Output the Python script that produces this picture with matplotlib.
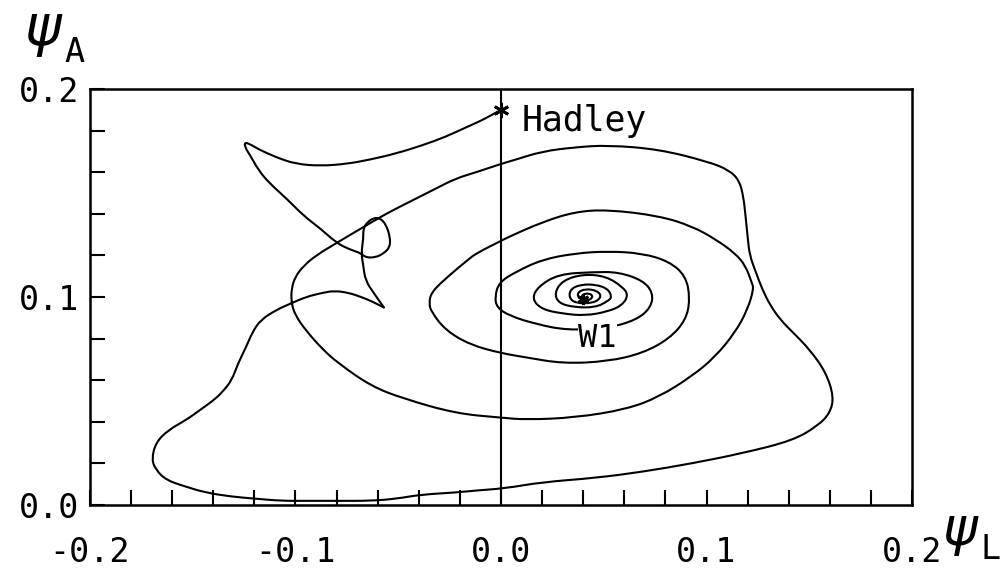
import numpy as np
import matplotlib.pyplot as plt
from matplotlib.path import Path
from matplotlib.patches import PathPatch
from matplotlib.ticker import MultipleLocator, FormatStrFormatter

plt.rcParams['font.family'] = 'DejaVu Sans Mono'
plt.rcParams['axes.unicode_minus'] = False
plt.rcParams['mathtext.fontset'] = 'dejavusans'

# fixed points
hadley = (0.000, 0.190)
w1 = (0.040, 0.099)

# transient: Hadley -> tip -> small loop -> cusp
trans_L = [0.000, -0.007, -0.016, -0.027, -0.038, -0.051, -0.064, -0.075, -0.088, -0.100,
           -0.109, -0.118, -0.123, -0.125, -0.124, -0.122, -0.118, -0.113, -0.104, -0.096,
           -0.088, -0.080, -0.074, -0.068, -0.066, -0.061, -0.057, -0.054, -0.054, -0.056,
           -0.059, -0.062, -0.065, -0.067, -0.067, -0.068, -0.067, -0.066, -0.062, -0.057]
trans_A = [0.190, 0.186, 0.182, 0.177, 0.173, 0.169, 0.166, 0.164, 0.163, 0.164,
           0.167, 0.171, 0.174, 0.174, 0.171, 0.168, 0.161, 0.155, 0.147, 0.139,
           0.133, 0.126, 0.123, 0.121, 0.119, 0.119, 0.121, 0.124, 0.129, 0.135,
           0.138, 0.138, 0.136, 0.133, 0.128, 0.121, 0.115, 0.108, 0.102, 0.095]

# big outer orbits (start right after the cusp)
orbit_L = [-0.063, -0.068, -0.074, -0.081, -0.087, -0.095, -0.102, -0.109, -0.117, -0.121,
           -0.124, -0.128, -0.131, -0.135, -0.139, -0.146, -0.153, -0.162, -0.168, -0.170,
           -0.168, -0.163, -0.154, -0.144, -0.131, -0.119, -0.107, -0.095, -0.080, -0.063,
           -0.051, -0.039, -0.022, -0.012, 0.002, 0.020, 0.046, 0.069, 0.093, 0.118,
           0.142, 0.154, 0.160, 0.162, 0.158, 0.150, 0.142, 0.136, 0.131, 0.127,
           0.124, 0.121, 0.120, 0.119, 0.118, 0.116, 0.111, 0.101, 0.077, 0.052,
           0.036, 0.020, 0.007, 0.000, -0.012, -0.022, -0.032, -0.044, -0.056, -0.068,
           -0.080, -0.090, -0.096, -0.100, -0.102, -0.102, -0.100, -0.095, -0.087, -0.079,
           -0.063, -0.047, -0.022, 0.000, 0.012, 0.036, 0.061, 0.077, 0.093, 0.104,
           0.114, 0.120, 0.123, 0.122, 0.119, 0.114, 0.104, 0.093, 0.077, 0.052,
           0.036, 0.020, 0.004, 0.000, -0.012]
orbit_A = [0.098, 0.100, 0.102, 0.103, 0.102, 0.100, 0.097, 0.094, 0.089, 0.083,
           0.076, 0.068, 0.060, 0.055, 0.051, 0.046, 0.041, 0.036, 0.030, 0.022,
           0.017, 0.012, 0.009, 0.006, 0.004, 0.003, 0.002, 0.002, 0.002, 0.002,
           0.003, 0.005, 0.006, 0.007, 0.008, 0.011, 0.013, 0.016, 0.020, 0.025,
           0.031, 0.038, 0.044, 0.052, 0.064, 0.075, 0.083, 0.089, 0.096, 0.104,
           0.112, 0.120, 0.129, 0.139, 0.148, 0.156, 0.161, 0.165, 0.171, 0.173,
           0.172, 0.170, 0.166, 0.164, 0.160, 0.157, 0.152, 0.146, 0.140, 0.133,
           0.126, 0.120, 0.115, 0.110, 0.104, 0.097, 0.091, 0.084, 0.075, 0.068,
           0.057, 0.051, 0.044, 0.042, 0.041, 0.042, 0.046, 0.052, 0.062, 0.071,
           0.083, 0.094, 0.104, 0.107, 0.115, 0.121, 0.128, 0.134, 0.139, 0.142,
           0.141, 0.136, 0.129, 0.127, 0.121]

# inner spiral into W1
spiral_L = [-0.016, -0.028, -0.034, -0.035, -0.034, -0.027, -0.015, 0.000, 0.012, 0.030,
            0.052, 0.069, 0.082, 0.090, 0.092, 0.090, 0.082, 0.069, 0.052, 0.036,
            0.020, 0.007, -0.001, -0.003, -0.002, 0.004, 0.017, 0.032, 0.052, 0.066,
            0.073, 0.074, 0.069, 0.057, 0.045, 0.028, 0.018, 0.015, 0.020, 0.030,
            0.041, 0.052, 0.059, 0.062, 0.059, 0.051, 0.040, 0.030, 0.026, 0.028,
            0.036, 0.046, 0.052, 0.054, 0.052, 0.046, 0.039, 0.034, 0.033, 0.036,
            0.045, 0.049, 0.047, 0.041, 0.037, 0.038, 0.042, 0.045, 0.043, 0.039, 0.040]
spiral_A = [0.118, 0.108, 0.102, 0.097, 0.093, 0.084, 0.077, 0.073, 0.071, 0.068,
            0.069, 0.073, 0.080, 0.089, 0.099, 0.110, 0.117, 0.121, 0.122, 0.121,
            0.118, 0.112, 0.107, 0.100, 0.095, 0.091, 0.087, 0.084, 0.085, 0.089,
            0.095, 0.102, 0.108, 0.112, 0.112, 0.111, 0.105, 0.099, 0.094, 0.092,
            0.091, 0.093, 0.096, 0.101, 0.105, 0.110, 0.111, 0.108, 0.102, 0.097,
            0.095, 0.095, 0.098, 0.100, 0.104, 0.106, 0.106, 0.104, 0.100, 0.097,
            0.097, 0.100, 0.103, 0.104, 0.102, 0.099, 0.098, 0.100, 0.102, 0.101, 0.099]


def smooth_path(x, y):
    # quadratic b-spline through the read points (points act as control points)
    p = np.column_stack([x, y])
    verts = [p[0]]
    codes = [Path.MOVETO]
    for i in range(1, len(p) - 1):
        verts += [p[i], (p[i] + p[i + 1]) / 2]
        codes += [Path.CURVE3, Path.CURVE3]
    verts.append(p[-1])
    codes.append(Path.LINETO)
    return Path(verts, codes)


fig = plt.figure(figsize=(10.06, 5.77), dpi=100)
ax = fig.add_axes([90/1006, 72/577, 822/1006, 416/577])

# piece 1 ends at the cusp, piece 2 starts there so the cusp stays sharp
piece1 = smooth_path(trans_L, trans_A)
piece2 = smooth_path([trans_L[-1]] + orbit_L + spiral_L,
                     [trans_A[-1]] + orbit_A + spiral_A)
for pth in (piece1, piece2):
    ax.add_patch(PathPatch(pth, fill=False, edgecolor='black', lw=1.5,
                           joinstyle='round', capstyle='round'))
ax.axvline(0.0, color='black', lw=1.5)

# asterisk markers
ax.plot(*hadley, marker=(6, 2, 0), ms=11, mew=2, color='black')
ax.plot(*w1, marker=(6, 2, 0), ms=8, mew=2, color='black')

ax.text(0.010, 0.180, 'Hadley', fontsize=25, ha='left', va='baseline')
ax.text(0.047, 0.080, 'W1', fontsize=23, ha='center', va='center',
        bbox=dict(facecolor='white', edgecolor='none', pad=0))

ax.set_xlim(-0.2, 0.2)
ax.set_ylim(0.0, 0.2)
ax.xaxis.set_major_locator(MultipleLocator(0.1))
ax.xaxis.set_minor_locator(MultipleLocator(0.02))
ax.yaxis.set_major_locator(MultipleLocator(0.1))
ax.yaxis.set_minor_locator(MultipleLocator(0.02))
ax.xaxis.set_major_formatter(FormatStrFormatter('%.1f'))
ax.yaxis.set_major_formatter(FormatStrFormatter('%.1f'))
ax.tick_params(which='both', direction='in', length=11, width=1.5,
               top=False, right=False, labelsize=24)
ax.tick_params(axis='x', which='major', pad=22)
ax.tick_params(axis='y', which='major', pad=8)
for s in ax.spines.values():
    s.set_linewidth(1.8)

# axis names: psi with subscript
fig.text(24/1006, 1 - 5/577, r'$\psi$', fontsize=40, ha='left', va='top')
fig.text(64/1006, 1 - 62/577, 'A', fontsize=24, ha='left', va='baseline')
fig.text(942/1006, 1 - 506/577, r'$\psi$', fontsize=38, ha='left', va='top')
fig.text(980/1006, 1 - 559/577, 'L', fontsize=24, ha='left', va='baseline')

fig.savefig('out.png', dpi=100)
